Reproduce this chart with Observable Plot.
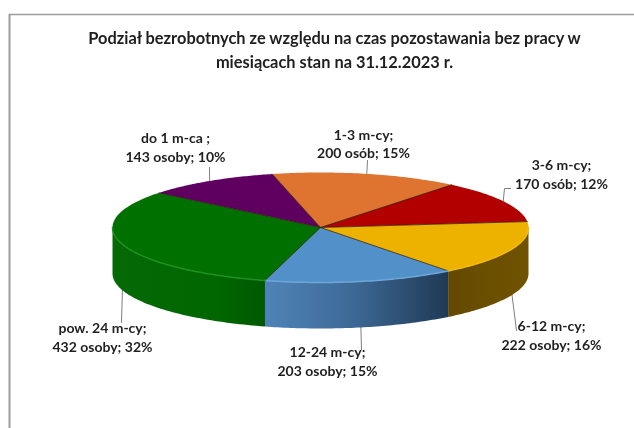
<!DOCTYPE html>
<html lang="pl">
<head>
<meta charset="utf-8">
<style>html,body{margin:0;padding:0;background:#fff}svg{display:block;filter:blur(0.35px)}</style>
<script src="https://cdn.jsdelivr.net/npm/d3@7"></script>
<script src="https://cdn.jsdelivr.net/npm/@observablehq/plot@0.6"></script>
</head>
<body>
<div id="chart"></div>
<script>
const titleLines = ["Podział bezrobotnych ze względu na czas pozostawania bez pracy w", "miesiącach stan na 31.12.2023 r."];
const categories = ["do 1 m-ca ;", "1-3 m-cy;", "3-6 m-cy;", "6-12 m-cy;", "12-24 m-cy;", "pow. 24 m-cy;"];
const counts = [143, 200, 170, 222, 203, 432];
const units = ["osoby", "osób", "osób", "osoby", "osoby", "osoby"];
const shares = [10, 15, 12, 16, 15, 32];
const topColors = ["#5f0060", "#de7430", "#b20000", "#edb100", "#5290c9", "#007000"];
const wallFills = [null, null, null, "url(#wallYellow)", "url(#wallBlue)", "url(#wallGreen)"];
const rimColors = [null, null, null, "#f2bb10", "#6fa6d8", "#1f8f1f"];

// pie layout (pixel space of the x/y scales)
const cx = 320, cy = 227, rx = 208, ry = 55, depth = 46, firstAngle = -51;
const font = "Lato, Carlito, sans-serif", ink = "#1f1f1f", leaderGray = "#7f7f7f";
const labelAt = [[175,146],[363,142.5],[561,173],[551,334],[327,360],[102,336]];
const leaderEnd = [[209,167],[367,160],[510,188],[516,330],[361,349],[121,322]];
const elbow = [null,null,[504,188],null,null,null];

const P = (deg, z = 0) => {
  const a = deg * Math.PI / 180;
  return {x: cx + rx * Math.sin(a), y: cy - ry * Math.cos(a) + z};
};
const arc = (a0, a1, z = 0) => d3.range(0, 61).map(i => P(a0 + (a1 - a0) * i / 60, z));

const total = d3.sum(counts);
let run = firstAngle;
const slices = counts.map((v, i) => {
  const start = run; run += v / total * 360;
  return {i, start, end: run, mid: (start + run) / 2};
});

const marks = [
  () => {
    const ns = "http://www.w3.org/2000/svg";
    const defs = document.createElementNS(ns, "defs");
    const grads = {
      wallYellow: [["0", "#634800"], ["0.5", "#6b4f00"], ["1", "#6f5300"]],
      wallBlue: [["0", "#4f83b8"], ["0.45", "#3f6b98"], ["1", "#1f3a55"]],
      wallGreen: [["0", "#056a05"], ["0.7", "#006600"], ["1", "#005800"]]
    };
    for (const [id, stops] of Object.entries(grads)) {
      const g = document.createElementNS(ns, "linearGradient");
      g.setAttribute("id", id);
      for (const [o, c] of stops) {
        const s = document.createElementNS(ns, "stop");
        s.setAttribute("offset", o); s.setAttribute("stop-color", c);
        g.appendChild(s);
      }
      defs.appendChild(g);
    }
    return defs;
  },
  Plot.ruleX([9], {y1: 14, y2: 428, stroke: "#9c9c9c", strokeWidth: 2}),
  Plot.ruleY([14], {x1: 9, x2: 634, stroke: "#9c9c9c", strokeWidth: 1.5})
];

slices.forEach(s => {
  const front = s.mid > 90 && s.mid < 270;
  const from = P(s.mid, front ? depth : 0);
  const pts = [from, ...(elbow[s.i] ? [{x: elbow[s.i][0], y: elbow[s.i][1]}] : []), {x: leaderEnd[s.i][0], y: leaderEnd[s.i][1]}];
  marks.push(Plot.line(pts, {x: "x", y: "y", stroke: leaderGray, strokeWidth: 1}));
});

slices.filter(s => wallFills[s.i]).forEach(s => {
  const a0 = Math.max(s.start, 90), a1 = Math.min(s.end, 270);
  const pts = [...arc(a0, a1), ...arc(a0, a1, depth).reverse()];
  marks.push(Plot.line(pts, {x: "x", y: "y", fill: wallFills[s.i], stroke: "none", curve: "linear-closed"}));
});

slices.forEach(s => {
  const pts = [{x: cx, y: cy}, ...arc(s.start, s.end)];
  marks.push(Plot.line(pts, {x: "x", y: "y", fill: topColors[s.i], stroke: "none", curve: "linear-closed"}));
});

slices.forEach(s => {
  marks.push(Plot.line([{x: cx, y: cy}, P(s.start)], {x: "x", y: "y", stroke: "#2b1a05", strokeWidth: 1, strokeOpacity: 0.75}));
});

slices.filter(s => rimColors[s.i]).forEach(s => {
  const a0 = Math.max(s.start, 90), a1 = Math.min(s.end, 270);
  marks.push(Plot.line(arc(a0, a1), {x: "x", y: "y", stroke: rimColors[s.i], strokeWidth: 1.5}));
});

const labelRows = categories.map((c, i) => ({
  x: labelAt[i][0], y: labelAt[i][1],
  text: `${c}\n${counts[i]} ${units[i]}; ${shares[i]}%`
}));
marks.push(Plot.text(labelRows, {
  x: "x", y: "y", text: "text", fontFamily: font, fontSize: 14, fontWeight: 700,
  fill: ink, textAnchor: "middle", lineAnchor: "middle", lineHeight: 1.33
}));

marks.push(Plot.text([titleLines.join("\n")], {
  x: () => 334, y: () => 48, text: d => d, fontFamily: font, fontSize: 16.4, fontWeight: 700,
  fill: ink, textAnchor: "middle", lineAnchor: "middle", lineHeight: 1.42
}));

const chart = Plot.plot({
  width: 634, height: 428,
  margin: 0,
  x: {domain: [0, 634], range: [0, 634], axis: null},
  y: {domain: [0, 428], range: [0, 428], axis: null},
  style: {background: "#fff"},
  marks
});
document.getElementById("chart").appendChild(chart);
</script>
</body>
</html>
